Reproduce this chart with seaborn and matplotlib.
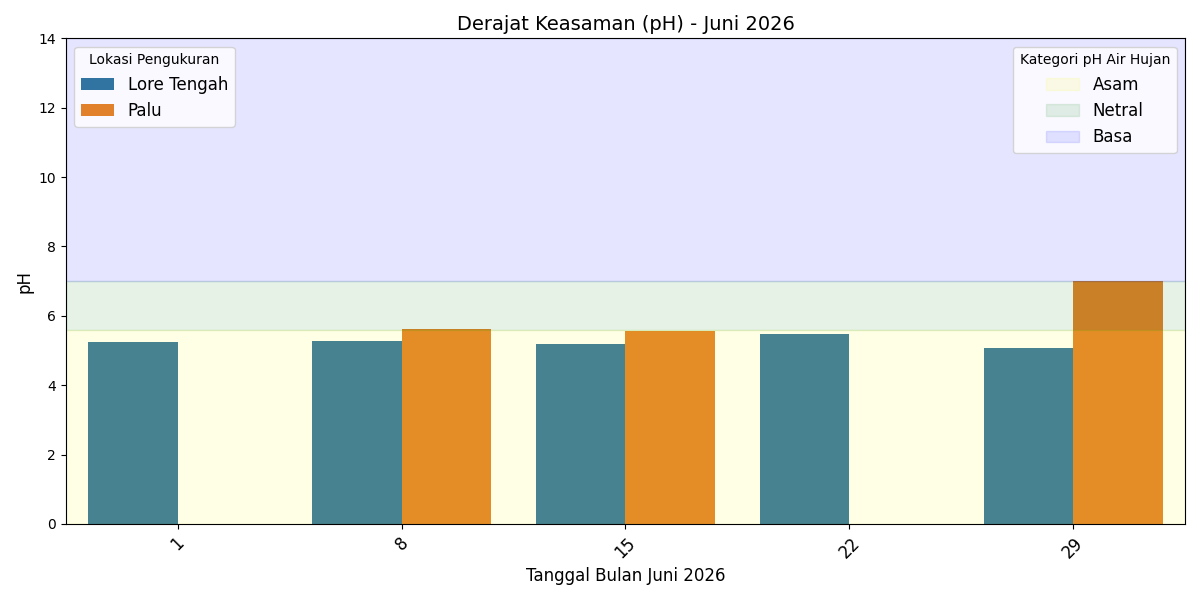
import pandas as pd
import numpy as np
import matplotlib
matplotlib.use("Agg")
import matplotlib.pyplot as plt
import seaborn as sns
from matplotlib.patches import Patch

# data
tanggal = ["1", "8", "15", "22", "29"]
ph_lore_tengah = [5.25, 5.28, 5.2, 5.48, 5.07]
ph_palu = [np.nan, 5.62, 5.55, np.nan, 7.0]

df = pd.DataFrame({
    "Tanggal": tanggal * 2,
    "pH": ph_lore_tengah + ph_palu,
    "Lokasi": ["Lore Tengah"] * 5 + ["Palu"] * 5,
})

fig, ax = plt.subplots(figsize=(12, 6))
sns.barplot(data=df, x="Tanggal", y="pH", hue="Lokasi", ax=ax, errorbar=None)

# pH categories drawn over the bars
ax.axhspan(0, 5.6, color="yellow", alpha=0.1)
ax.axhspan(5.6, 7, color="green", alpha=0.1)
ax.axhspan(7, 14, color="blue", alpha=0.1)

ax.set_ylim(0, 14)
ax.set_title("Derajat Keasaman (pH) - Juni 2026", fontsize=14)
ax.set_xlabel("Tanggal Bulan Juni 2026", fontsize=12)
ax.set_ylabel("pH", fontsize=12)
plt.xticks(rotation=45, fontsize=12)

leg1 = ax.legend(title="Lokasi Pengukuran", loc="upper left", fontsize=12)
ax.add_artist(leg1)
patches = [
    Patch(color="yellow", alpha=0.1, label="Asam"),
    Patch(color="green", alpha=0.1, label="Netral"),
    Patch(color="blue", alpha=0.1, label="Basa"),
]
ax.legend(handles=patches, title="Kategori pH Air Hujan", loc="upper right", fontsize=12)

plt.tight_layout()
plt.savefig("out.png", dpi=100)
